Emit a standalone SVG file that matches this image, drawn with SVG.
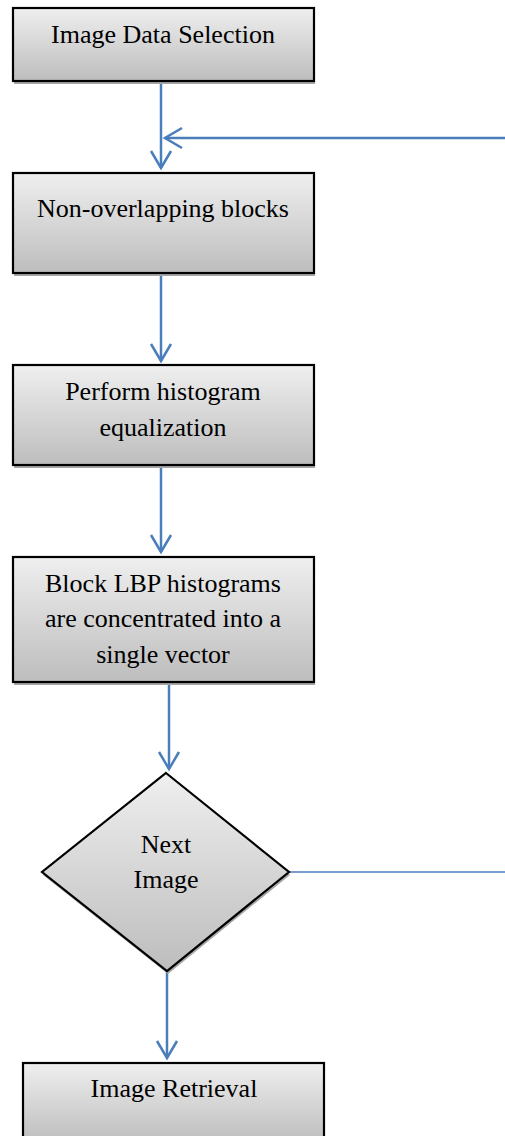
<svg xmlns="http://www.w3.org/2000/svg" width="505" height="1136" viewBox="0 0 505 1136">
  <style>
    .box { fill: url(#boxFill); stroke: #000; stroke-width: 2.2; }
    .shadow { fill: #a6a6a6; }
    .label { font-family: "Liberation Serif", "Times New Roman", serif; font-size: 26px; fill: #000; text-anchor: middle; }
    .flow { fill: none; stroke: #4a7ebb; stroke-width: 2.5; }
    .thin { fill: none; stroke: #4a7ebb; stroke-width: 1.6; }
  </style>
  <defs>
    <linearGradient id="boxFill" x1="0" y1="0" x2="0" y2="1">
      <stop offset="0" stop-color="#efefef"/>
      <stop offset="1" stop-color="#bdbdbd"/>
    </linearGradient>
    <marker id="open" markerUnits="userSpaceOnUse" markerWidth="40" markerHeight="40" orient="auto" overflow="visible" refX="0" refY="0">
      <path d="M-17,-10 L0,0 L-17,10" fill="none" stroke="#4a7ebb" stroke-width="2.5"/>
    </marker>
  </defs>

  <g id="connectors">
    <line class="flow" x1="161" y1="81" x2="161" y2="168" marker-end="url(#open)"/>
    <line class="flow" x1="505" y1="138" x2="165" y2="138" marker-end="url(#open)"/>
    <line class="flow" x1="161" y1="273" x2="161" y2="361" marker-end="url(#open)"/>
    <line class="flow" x1="161" y1="465" x2="161" y2="552" marker-end="url(#open)"/>
    <line class="flow" x1="169" y1="682" x2="169" y2="769" marker-end="url(#open)"/>
    <line class="flow" x1="167" y1="971" x2="167" y2="1058" marker-end="url(#open)"/>
    <line class="thin" x1="289" y1="872" x2="505" y2="872"/>
  </g>

  <g id="image-data-selection">
    <rect class="shadow" x="14" y="11" width="301" height="73"/>
    <rect class="box" x="13" y="8" width="301" height="73"/>
    <text class="label" x="163" y="43">Image Data Selection</text>
  </g>

  <g id="non-overlapping-blocks">
    <rect class="shadow" x="14" y="176" width="301" height="100"/>
    <rect class="box" x="13" y="173" width="301" height="100"/>
    <text class="label" x="163" y="217">Non-overlapping blocks</text>
  </g>

  <g id="histogram-equalization">
    <rect class="shadow" x="14" y="368" width="301" height="100"/>
    <rect class="box" x="13" y="365" width="301" height="100"/>
    <text class="label" x="163" y="400">Perform histogram</text>
    <text class="label" x="163" y="436">equalization</text>
  </g>

  <g id="lbp-histograms">
    <rect class="shadow" x="14" y="560" width="301" height="125"/>
    <rect class="box" x="13" y="557" width="301" height="125"/>
    <text class="label" x="163" y="592">Block LBP histograms</text>
    <text class="label" x="163" y="627">are concentrated into a</text>
    <text class="label" x="163" y="663">single vector</text>
  </g>

  <g id="next-image">
    <polygon class="shadow" points="167,776 290,875 168,974 43,875"/>
    <polygon class="box" points="166,773 289,872 167,971 42,872"/>
    <text class="label" x="166" y="853">Next</text>
    <text class="label" x="166" y="888">Image</text>
  </g>

  <g id="image-retrieval">
    <rect class="box" x="23" y="1063" width="301" height="80"/>
    <text class="label" x="174" y="1097">Image Retrieval</text>
  </g>
</svg>
